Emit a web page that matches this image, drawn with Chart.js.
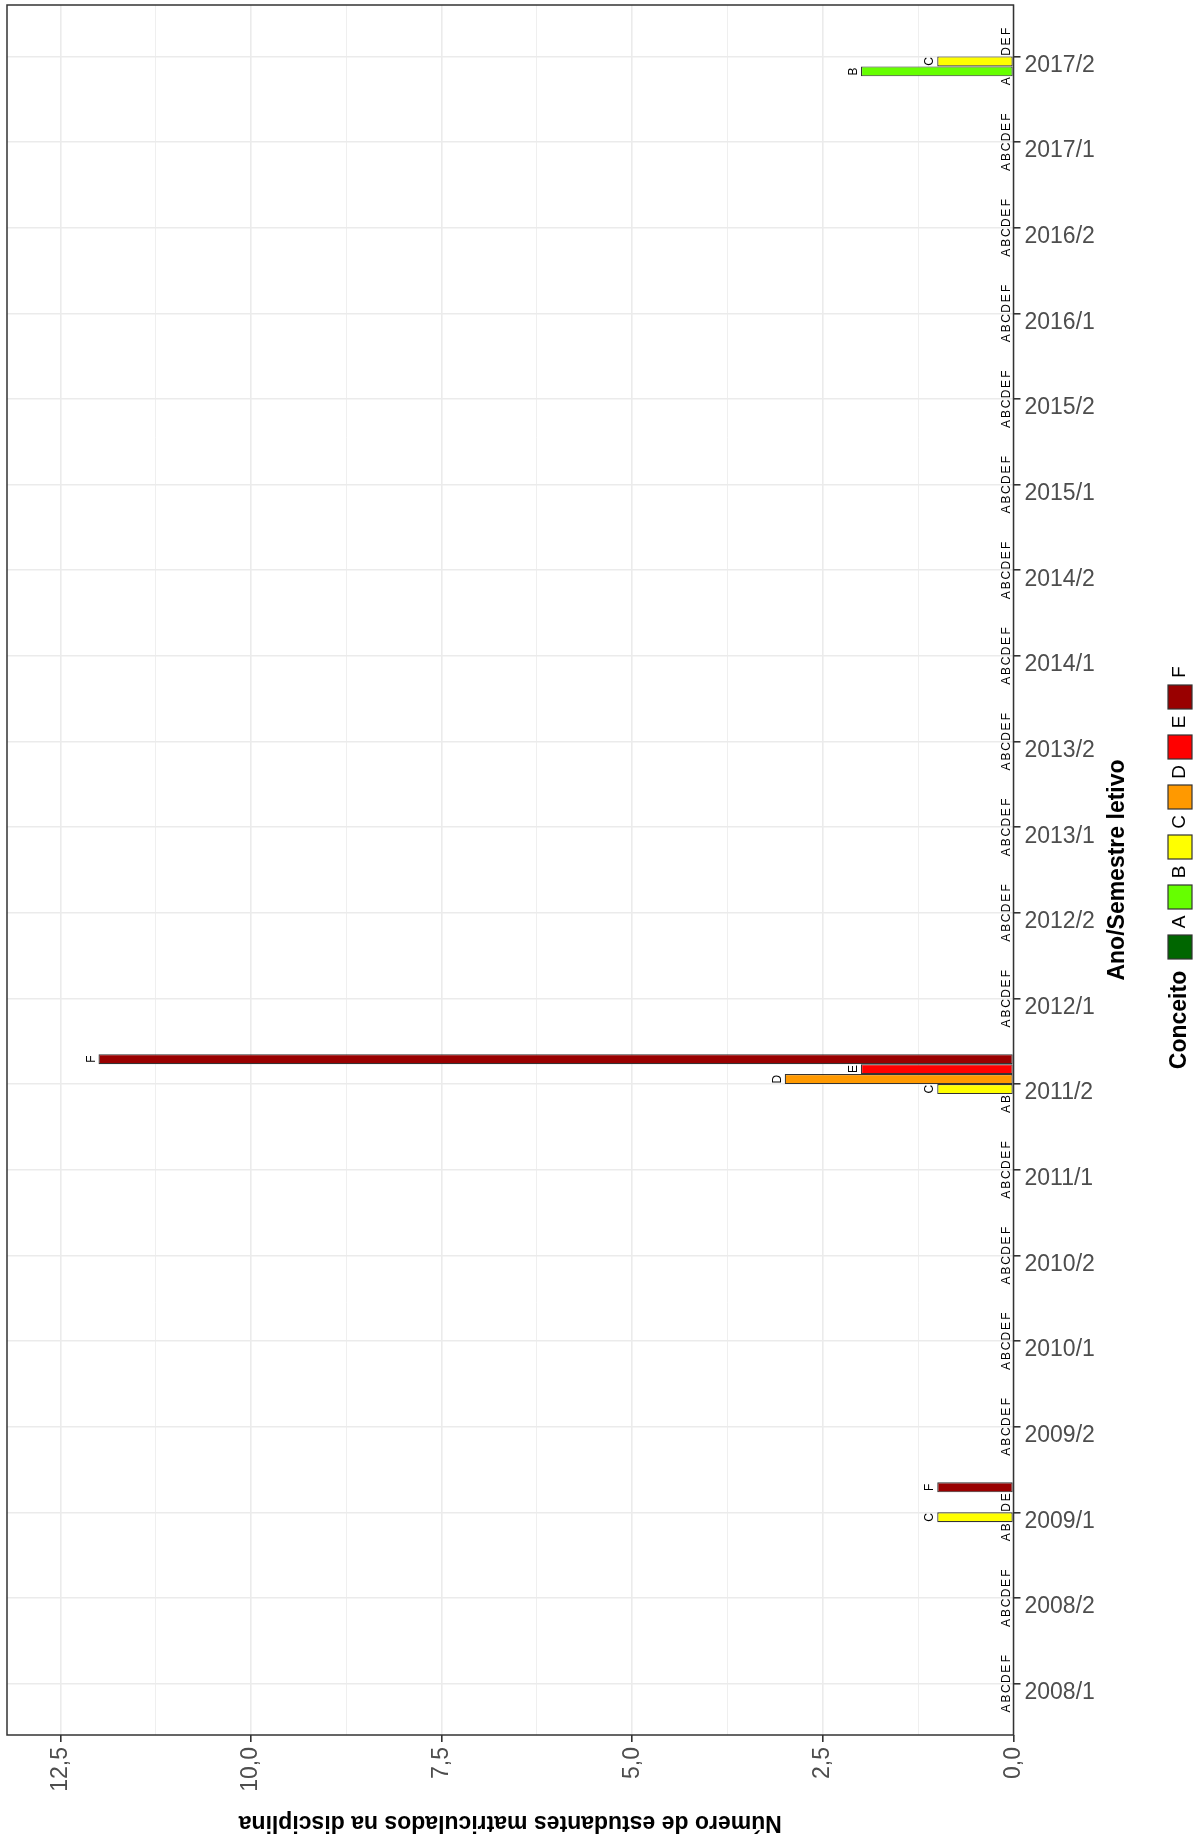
<!DOCTYPE html>
<html>
<head>
<meta charset="utf-8">
<script src="https://cdn.jsdelivr.net/npm/chart.js@4.4.1/dist/chart.umd.min.js"></script>
<style>
  html, body { margin: 0; padding: 0; background: #fff; }
  #wrap { width: 1196px; height: 1841px; }
</style>
</head>
<body>
<div id="wrap"><canvas id="grafico" width="1196" height="1841"></canvas></div>
<script>
const semestres = ["2008/1", "2008/2", "2009/1", "2009/2", "2010/1", "2010/2", "2011/1", "2011/2", "2012/1", "2012/2",
  "2013/1", "2013/2", "2014/1", "2014/2", "2015/1", "2015/2", "2016/1", "2016/2", "2017/1", "2017/2"];
const conceitos = ["A", "B", "C", "D", "E", "F"];

// numero de estudantes por conceito, um valor por semestre
const alunosA = [0, 0, 0, 0, 0, 0, 0, 0, 0, 0, 0, 0, 0, 0, 0, 0, 0, 0, 0, 0];
const alunosB = [0, 0, 0, 0, 0, 0, 0, 0, 0, 0, 0, 0, 0, 0, 0, 0, 0, 0, 0, 2];
const alunosC = [0, 0, 1, 0, 0, 0, 0, 1, 0, 0, 0, 0, 0, 0, 0, 0, 0, 0, 0, 1];
const alunosD = [0, 0, 0, 0, 0, 0, 0, 3, 0, 0, 0, 0, 0, 0, 0, 0, 0, 0, 0, 0];
const alunosE = [0, 0, 0, 0, 0, 0, 0, 2, 0, 0, 0, 0, 0, 0, 0, 0, 0, 0, 0, 0];
const alunosF = [0, 0, 1, 0, 0, 0, 0, 12, 0, 0, 0, 0, 0, 0, 0, 0, 0, 0, 0, 0];

const ticksValor = [0, 2.5, 5, 7.5, 10, 12.5];
const cores = ["#006600", "#66FF00", "#FFFF00", "#FF9900", "#FF0000", "#990000"];

const FONTE = "'Liberation Sans', Arial, sans-serif";
Chart.defaults.font.family = FONTE;

const ehMaior = v => Math.abs(v / 2.5 - Math.round(v / 2.5)) < 1e-6;
const fmt = v => v.toFixed(1).replace(".", ",");

const series = [alunosA, alunosB, alunosC, alunosD, alunosE, alunosF];

// F fica em cima dentro de cada grupo, por isso a ordem invertida
const datasets = conceitos.map((c, k) => ({
  label: c,
  data: series[k].map((v, i) => ({ x: v, y: i })),
  backgroundColor: cores[k],
  borderColor: "#333333",
  borderWidth: ctx => (ctx.raw && ctx.raw.x > 0 ? 1.2 : 0),
  borderSkipped: false,
  categoryPercentage: 0.7,
  barPercentage: 1
})).reverse();

const rotulosBarras = {
  id: "rotulosBarras",
  afterDatasetsDraw(chart) {
    const ctx = chart.ctx;
    ctx.save();
    ctx.font = "12px " + FONTE;
    ctx.fillStyle = "#000";
    ctx.textAlign = "center";
    ctx.textBaseline = "alphabetic";
    chart.data.datasets.forEach((ds, di) => {
      chart.getDatasetMeta(di).data.forEach(bar => {
        ctx.save();
        ctx.translate(bar.x - 4, bar.y);
        ctx.rotate(-Math.PI / 2);
        ctx.fillText(ds.label, 0, 0);
        ctx.restore();
      });
    });
    ctx.restore();
  }
};

const moldura = {
  id: "moldura",
  afterDraw(chart) {
    const ctx = chart.ctx;
    const a = chart.chartArea;
    ctx.save();
    ctx.strokeStyle = "#333333";
    ctx.lineWidth = 1.5;
    ctx.strokeRect(a.left, a.top, a.right - a.left, a.bottom - a.top);

    ctx.fillStyle = "#000";
    ctx.textAlign = "center";
    ctx.textBaseline = "middle";

    // titulo do eixo de valores (de cabeca para baixo)
    ctx.font = "bold 23px " + FONTE;
    ctx.save();
    ctx.translate((a.left + a.right) / 2, 1822);
    ctx.rotate(Math.PI);
    ctx.fillText("Número de estudantes matriculados na disciplina", 0, 0);
    ctx.restore();

    // titulo do eixo de semestres
    ctx.save();
    ctx.translate(1118, (a.top + a.bottom) / 2);
    ctx.rotate(-Math.PI / 2);
    ctx.fillText("Ano/Semestre letivo", 0, 0);
    ctx.restore();

    // legenda
    ctx.save();
    ctx.translate(1180, 1020);
    ctx.rotate(-Math.PI / 2);
    ctx.fillText("Conceito", 0, 0);
    ctx.restore();

    ctx.font = "19px " + FONTE;
    conceitos.forEach((c, k) => {
      const yc = 947 - 50 * k;
      ctx.fillStyle = cores[k];
      ctx.fillRect(1168, yc - 12, 24, 24);
      ctx.strokeStyle = "#333333";
      ctx.lineWidth = 1.2;
      ctx.strokeRect(1168, yc - 12, 24, 24);
      ctx.fillStyle = "#000";
      ctx.save();
      ctx.translate(1180, yc - 25);
      ctx.rotate(-Math.PI / 2);
      ctx.fillText(c, 0, 0);
      ctx.restore();
    });
    ctx.restore();
  }
};

new Chart(document.getElementById("grafico"), {
  type: "bar",
  data: { datasets },
  options: {
    indexAxis: "y",
    responsive: false,
    animation: false,
    devicePixelRatio: 1,
    layout: { padding: { left: 7, top: 5, right: 0, bottom: 0 } },
    plugins: {
      legend: { display: false },
      tooltip: { enabled: false },
      title: { display: false }
    },
    scales: {
      x: {
        type: "linear",
        reverse: true,
        min: 0,
        max: 13.2,
        afterBuildTicks: s => {
          const t = [];
          ticksValor.forEach(v => {
            t.push({ value: v });
            if (v + 1.25 < 13.2) t.push({ value: v + 1.25 });
          });
          s.ticks = t;
        },
        grid: {
          color: "#EBEBEB",
          lineWidth: c => (ehMaior(c.tick.value) ? 1.6 : 0.8),
          tickLength: 7,
          tickWidth: 1.6,
          tickColor: c => (ehMaior(c.tick.value) ? "#333333" : "rgba(0,0,0,0)")
        },
        border: { display: false },
        ticks: {
          autoSkip: false,
          minRotation: 90,
          maxRotation: 90,
          padding: 5,
          color: "#4D4D4D",
          font: { size: 23 },
          callback: v => (ehMaior(v) ? fmt(v) : "")
        },
        afterFit: s => {
          s.height = 106;
          s.paddingLeft = 0;
          s.paddingRight = 0;
        }
      },
      y: {
        type: "linear",
        position: "right",
        offset: false,
        min: -0.6,
        max: 19.6,
        afterBuildTicks: s => {
          s.ticks = semestres.map((_, i) => ({ value: i }));
        },
        grid: {
          offset: false,
          color: "#EBEBEB",
          lineWidth: 1.6,
          tickLength: 7,
          tickWidth: 1.6,
          tickColor: "#333333"
        },
        border: { display: false },
        ticks: {
          autoSkip: false,
          padding: 4,
          labelOffset: 9,
          color: "#4D4D4D",
          font: { size: 23 },
          callback: v => semestres[v]
        },
        afterFit: s => {
          s.width = 182.5;
          s.paddingTop = 0;
          s.paddingBottom = 0;
        }
      }
    }
  },
  plugins: [rotulosBarras, moldura]
});
</script>
</body>
</html>
